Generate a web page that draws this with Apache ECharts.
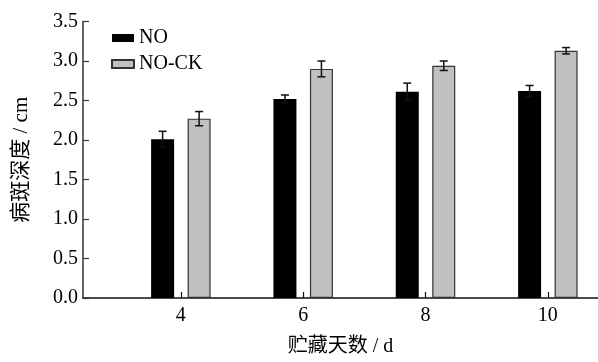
<!DOCTYPE html>
<html>
<head>
<meta charset="utf-8">
<script src="https://cdn.jsdelivr.net/npm/echarts@6/dist/echarts.min.js"></script>
<style>html,body{margin:0;padding:0;background:#fff}#c{width:598px;height:362px}</style>
</head>
<body>
<div id="c"></div>
<script>
// ---- data ----
var days = [4, 6, 8, 10];
var tickLabels = ['4', '6', '8', '10'];
var seriesNames = ['NO', 'NO-CK'];
var noValues = [2.01, 2.52, 2.61, 2.62];
var noErrors = [0.10, 0.05, 0.11, 0.07];
var ckValues = [2.27, 2.90, 2.94, 3.13];
var ckErrors = [0.09, 0.10, 0.06, 0.04];
var yTicks = [0, 0.5, 1.0, 1.5, 2.0, 2.5, 3.0, 3.5];

// ---- styles ----
var FONT = "'Liberation Serif', 'Noto Sans CJK SC', serif";
var BAR_W = 23;
var GAP_PX = 13.5;
var OFFSET = (BAR_W + GAP_PX) / 2;

function pairs(xs, ys) { return xs.map(function (x, i) { return [x, ys[i]]; }); }
function errData(xs, ys, es) { return xs.map(function (x, i) { return [x, ys[i] - es[i], ys[i] + es[i]]; }); }

function errRender(offset) {
  return function (params, api) {
    var x = api.value(0);
    var lo = api.coord([x, api.value(1)]);
    var hi = api.coord([x, api.value(2)]);
    var cx = lo[0] + offset;
    var cap = 4;
    var st = { stroke: '#111', lineWidth: 1.5 };
    return {
      type: 'group',
      children: [
        { type: 'line', shape: { x1: cx, y1: lo[1], x2: cx, y2: hi[1] }, style: st },
        { type: 'line', shape: { x1: cx - cap, y1: lo[1], x2: cx + cap, y2: lo[1] }, style: st },
        { type: 'line', shape: { x1: cx - cap, y1: hi[1], x2: cx + cap, y2: hi[1] }, style: st }
      ]
    };
  };
}

var chart = echarts.init(document.getElementById('c'), null, { renderer: 'canvas' });
chart.setOption({
  animation: false,
  backgroundColor: '#fff',
  grid: { left: 83, right: 0, top: 21.5, bottom: 61.5, containLabel: false },
  legend: {
    data: seriesNames,
    orient: 'vertical',
    icon: 'rect',
    left: 106,
    top: 23,
    itemWidth: 22,
    itemHeight: 8,
    itemGap: 6,
    textStyle: { fontFamily: FONT, fontSize: 20, color: '#000', lineHeight: 20 }
  },
  xAxis: {
    type: 'value',
    min: 2.4,
    max: 10.82,
    name: '贮藏天数 / d',
    nameLocation: 'middle',
    nameGap: 39,
    nameTextStyle: { fontFamily: FONT, fontSize: 20, color: '#000' },
    splitLine: { show: false },
    axisLine: { show: true, lineStyle: { color: '#111', width: 1.5 } },
    axisTick: { show: true, inside: true, length: 6, customValues: days, lineStyle: { color: '#111', width: 1.2 } },
    axisLabel: {
      customValues: days,
      fontFamily: FONT, fontSize: 20, color: '#000', margin: 8,
      formatter: function (v) { var i = days.indexOf(v); return i >= 0 ? tickLabels[i] : ''; }
    }
  },
  yAxis: {
    type: 'value',
    min: 0,
    max: 3.5,
    interval: 0.5,
    name: '病斑深度 / cm',
    nameLocation: 'middle',
    nameGap: 51,
    nameTextStyle: { fontFamily: FONT, fontSize: 21, color: '#000' },
    splitLine: { show: false },
    axisLine: { show: true, lineStyle: { color: '#333', width: 1.5 } },
    axisTick: { show: true, inside: true, length: 6, lineStyle: { color: '#333', width: 1.2 } },
    axisLabel: {
      fontFamily: FONT, fontSize: 20, color: '#000', margin: 5,
      formatter: function (v) { return v.toFixed(1); }
    }
  },
  series: [
    {
      name: seriesNames[0], type: 'bar', barWidth: BAR_W, barGap: (GAP_PX / BAR_W * 100).toFixed(1) + '%',
      itemStyle: { color: '#000', borderColor: '#000', borderWidth: 0 },
      data: pairs(days, noValues), z: 2
    },
    {
      name: seriesNames[1], type: 'bar', barWidth: BAR_W,
      itemStyle: { color: '#c0c0c0', borderColor: '#333', borderWidth: 1.2 },
      data: pairs(days, ckValues), z: 2
    },
    {
      name: 'err-NO', type: 'custom', renderItem: errRender(-OFFSET),
      encode: { x: 0, y: [1, 2] }, data: errData(days, noValues, noErrors), z: 5
    },
    {
      name: 'err-NO-CK', type: 'custom', renderItem: errRender(OFFSET),
      encode: { x: 0, y: [1, 2] }, data: errData(days, ckValues, ckErrors), z: 5
    }
  ]
});
</script>
</body>
</html>
